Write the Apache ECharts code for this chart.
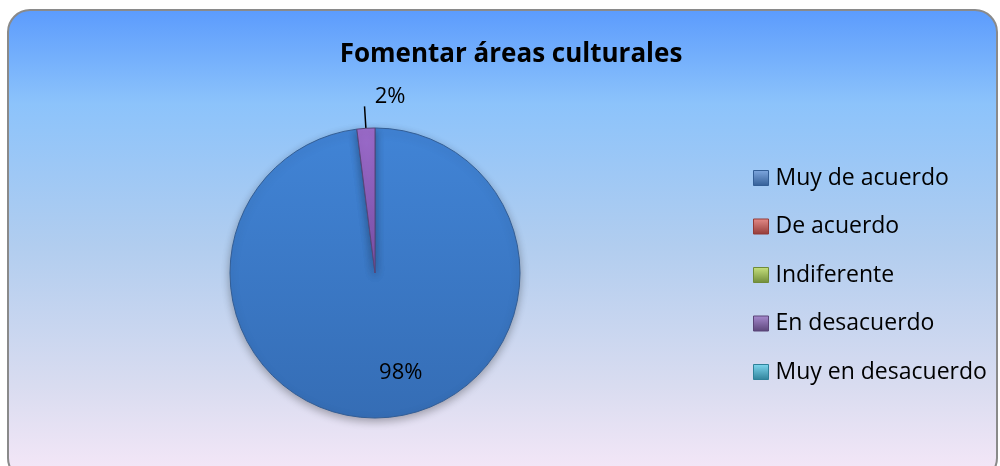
<!DOCTYPE html>
<html>
<head>
<meta charset="utf-8">
<script src="https://cdn.jsdelivr.net/npm/echarts@6/dist/echarts.min.js"></script>
<style>
html,body{margin:0;padding:0;background:#fff;}
#chart{width:1000px;height:466px;}
</style>
</head>
<body>
<div id="chart"></div>
<script>
var titleText = 'Fomentar áreas culturales';
var categories = ['Muy de acuerdo', 'De acuerdo', 'Indiferente', 'En desacuerdo', 'Muy en desacuerdo'];
var values = [98, 0, 0, 2, 0];
var lightColors = ['#7fa8e0', '#e58c89', '#c8e27f', '#a88bd0', '#7fd8f0'];
var darkColors = ['#335e96', '#933a37', '#6f8b38', '#5a4578', '#2f8199'];
var sliceTop = ['#4184d6', '#d05a56', '#a8c960', '#9c6ccb', '#52b8d4'];
var sliceBottom = ['#356db5', '#a8433f', '#86a34a', '#7f52ad', '#3b98b1'];

function linGrad(c0, c1) {
  return {type: 'linear', x: 0, y: 0, x2: 0, y2: 1,
    colorStops: [{offset: 0, color: c0}, {offset: 1, color: c1}]};
}

var chart = echarts.init(document.getElementById('chart'), null, {renderer: 'canvas'});

var pieData = categories.map(function (name, i) {
  var zero = values[i] === 0;
  return {
    name: name,
    value: values[i],
    itemStyle: {
      color: linGrad(sliceTop[i], sliceBottom[i]),
      borderColor: zero ? 'transparent' : darkColors[i],
      borderWidth: zero ? 0 : 1
    },
    label: i === 0 ? {show: true, position: 'inside'} : {show: !zero},
    labelLine: {show: !zero && i === 3}
  };
});

var legendData = categories.map(function (name, i) {
  return {
    name: name,
    itemStyle: {
      color: linGrad(lightColors[i], darkColors[i]),
      borderColor: darkColors[i],
      borderWidth: 1
    }
  };
});

var option = {
  backgroundColor: '#ffffff',
  animation: false,
  graphic: [{
    type: 'rect',
    z: -10,
    silent: true,
    shape: {x: 8, y: 10, width: 989, height: 470, r: 22},
    style: {
      fill: {type: 'linear', x: 0, y: 0, x2: 0, y2: 1, colorStops: [
        {offset: 0, color: '#5b9bfd'},
        {offset: 0.2, color: '#8cc3fb'},
        {offset: 0.5, color: '#b1cdef'},
        {offset: 0.8, color: '#d9dcf0'},
        {offset: 1, color: '#f7e8f8'}
      ]},
      stroke: '#8a8a8a',
      lineWidth: 2
    }
  }],
  title: {
    text: titleText,
    left: 511,
    top: 42,
    padding: 0,
    textAlign: 'center',
    textStyle: {fontFamily: 'Open Sans', fontWeight: 'bold', fontSize: 26, color: '#000'}
  },
  legend: {
    orient: 'vertical',
    left: 753,
    top: 166.5,
    padding: 0,
    icon: 'rect',
    itemWidth: 15,
    itemHeight: 15,
    itemGap: 25.5,
    textStyle: {fontFamily: 'Open Sans', fontSize: 23, lineHeight: 23, color: '#000', padding: [0, 0, 0, 2]},
    data: legendData
  },
  series: [{
    type: 'pie',
    center: [375, 273],
    radius: 145,
    startAngle: 90,
    clockwise: true,
    avoidLabelOverlap: false,
    stillShowZeroSum: false,
    itemStyle: {shadowBlur: 8, shadowOffsetY: 3, shadowColor: 'rgba(0,0,0,0.3)'},
    label: {
      position: 'outside',
      fontFamily: 'Open Sans',
      fontSize: 22,
      color: '#000',
      formatter: function (p) { return p.value ? Math.round(p.percent) + '%' : ''; }
    },
    labelLine: {length: 22, length2: 0, lineStyle: {color: '#000', width: 1.5}},
    labelLayout: function (p) {
      if (p.dataIndex === 0) return {dx: 21, dy: 24};
      if (p.dataIndex === 3) return {dx: 46, dy: -10};
      return {};
    },
    emphasis: {disabled: true},
    data: pieData
  }]
};
chart.setOption(option);
</script>
</body>
</html>
